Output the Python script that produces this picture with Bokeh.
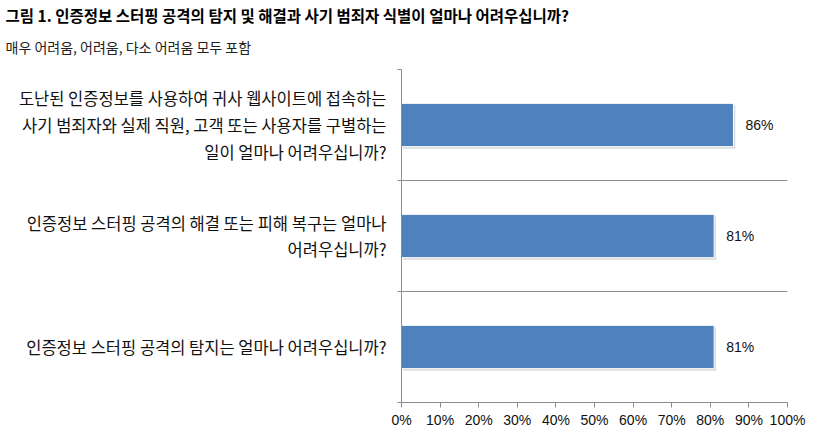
from bokeh.plotting import figure
from bokeh.models import Range1d, FixedTicker, LinearAxis, Title, PrintfTickFormatter
from bokeh.core.properties import value
from bokeh.embed import file_html
from bokeh.resources import INLINE

title = "그림 1. 인증정보 스터핑 공격의 탐지 및 해결과 사기 범죄자 식별이 얼마나 어려우십니까?"
subtitle = "매우 어려움, 어려움, 다소 어려움 모두 포함"

# top to bottom
categories = [
    "도난된 인증정보를 사용하여 귀사 웹사이트에 접속하는\n사기 범죄자와 실제 직원, 고객 또는 사용자를 구별하는\n일이 얼마나 어려우십니까?",
    "인증정보 스터핑 공격의 해결 또는 피해 복구는 얼마나\n어려우십니까?",
    "인증정보 스터핑 공격의 탐지는 얼마나 어려우십니까?",
]
values = [86, 81, 81]
x_ticks = [0, 10, 20, 30, 40, 50, 60, 70, 80, 90, 100]

KR = "Noto Sans CJK KR"
LAT = "Liberation Sans"
GRID = "#8c8c8c"

n = len(categories)
ys = [n - i - 0.5 for i in range(n)]
bounds = list(range(n + 1))

p = figure(width=819, height=438, output_backend="svg", toolbar_location=None,
           x_range=Range1d(0, 100), y_range=Range1d(0, n),
           x_axis_location=None, y_axis_location=None,
           min_border_left=401, min_border_right=32, min_border_top=69, min_border_bottom=36)
p.outline_line_color = None
p.background_fill_color = "white"
p.border_fill_color = "white"
p.xgrid.visible = False
p.ygrid.ticker = FixedTicker(ticks=bounds)
p.ygrid.grid_line_color = GRID
p.ygrid.grid_line_width = 1

# bottom axis
xa = LinearAxis(ticker=FixedTicker(ticks=x_ticks), formatter=PrintfTickFormatter(format="%d%%"))
xa.axis_line_color = GRID
xa.major_tick_line_color = GRID
xa.major_tick_out = 5
xa.major_tick_in = 0
xa.minor_tick_line_color = None
xa.major_label_standoff = 4
xa.major_label_text_font = LAT
xa.major_label_text_font_size = "14px"
xa.major_label_text_color = "#111111"
p.add_layout(xa, "below")

# left axis: category labels at centres, boundary ticks as minor ticks
ya = LinearAxis(ticker=FixedTicker(ticks=ys, minor_ticks=bounds))
ya.major_label_overrides = {y: c for y, c in zip(ys, categories)}
ya.axis_line_color = GRID
ya.major_tick_line_color = None
ya.major_tick_out = 0
ya.major_tick_in = 0
ya.minor_tick_line_color = GRID
ya.minor_tick_out = 4
ya.minor_tick_in = 0
ya.major_label_standoff = 11
ya.major_label_text_font = KR
ya.major_label_text_font_size = "16.5px"
ya.major_label_text_color = "#111111"
ya.major_label_text_line_height = 1.12
p.add_layout(ya, "left")

# shadow + bars
p.hbar(y=[y - 0.018 for y in ys], left=0.4, right=[v + 0.5 for v in values], height=0.39,
       fill_color="#9a9a9a", fill_alpha=0.35, line_color=None)
p.hbar(y=ys, left=0, right=values, height=0.39,
       fill_color="#4F81BD", line_color="white", line_width=1)

# value labels
p.text(x=values, y=ys, text=[f"{v}%" for v in values], x_offset=12,
       text_baseline="middle", text_align="left",
       text_font=value(LAT), text_font_size="14px", text_color="#111111")

# title & subtitle
p.add_layout(Title(text=subtitle, align="left", offset=-396, standoff=22, vertical_align="top",
                   text_font=KR, text_font_size="14px", text_font_style="normal",
                   text_color="#222222"), "above")
p.add_layout(Title(text=title, align="left", offset=-396, standoff=0, text_font=KR,
                   text_font_size="15.5px", text_font_style="bold", text_color="#000000"), "above")

open("out.html", "w").write(file_html(p, INLINE))
